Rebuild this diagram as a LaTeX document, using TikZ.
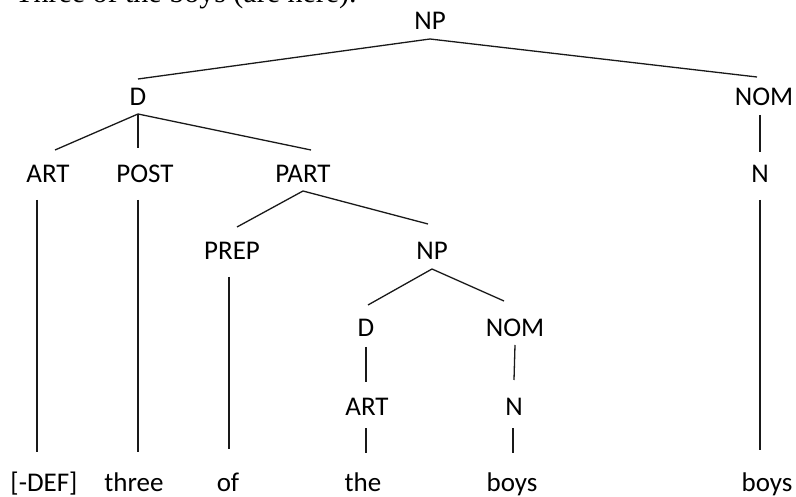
\documentclass[tikz,border=0pt]{standalone}
\usepackage{fontspec}
\setmainfont{Carlito}
\newfontfamily\serifsent{Liberation Serif}
\begin{document}
\begin{tikzpicture}[x=1pt,y=-1pt,
  lab/.style={inner sep=0pt, anchor=base, font=\fontsize{27}{31}\selectfont},
  br/.style={line width=1.3pt, black!90}]
\useasboundingbox (0,0) rectangle (796,497);
\node[anchor=base west, inner sep=0pt, font=\serifsent\fontsize{30}{34}\selectfont] (sent) at (15,3) {Three of the boys (are here).};
% labels
\node[lab] (np1) at (430,30) {NP};
\node[lab] (d1) at (138,106) {D};
\node[lab] (nom1) at (764,106) {NOM};
\node[lab] (art1) at (48,183) {ART};
\node[lab] (post1) at (145,183) {POST};
\node[lab] (part1) at (303,183) {PART};
\node[lab] (n1) at (760,183) {N};
\node[lab] (prep1) at (232,260) {PREP};
\node[lab] (np2) at (432,260) {NP};
\node[lab] (d2) at (366,337) {D};
\node[lab] (nom2) at (515,337) {NOM};
\node[lab] (art2) at (367,415) {ART};
\node[lab] (n2) at (514,415) {N};
\node[lab] (w1) at (44,491) {[-DEF]};
\node[lab] (w2) at (134,491) {three};
\node[lab] (w3) at (228,491) {of};
\node[lab] (w4) at (363,491) {the};
\node[lab] (w5) at (512,491) {boys};
\node[lab] (w6) at (767,491) {boys};
% branches
\draw[br] ([shift={(0,-27)}]d1.base) -- ([shift={(0,9)}]np1.base) -- ([shift={(-7,-29)}]nom1.base);
\draw[br] ([shift={(7,-33)}]art1.base) -- ([shift={(0,8)}]d1.base) -- ([shift={(8,-33)}]part1.base);
\draw[br] ([shift={(0,8)}]d1.base) -- ([shift={(-7,-35)}]post1.base);
\draw[br] ([shift={(5,-33)}]prep1.base) -- ([shift={(0,8)}]part1.base) -- ([shift={(-4,-36)}]np2.base);
\draw[br] ([shift={(2,-32)}]d2.base) -- ([shift={(0,9)}]np2.base) -- ([shift={(-11,-36)}]nom2.base);
\draw[br] ([shift={(0,10)}]d2.base) -- ([shift={(-1,-33)}]art2.base);
\draw[br] ([shift={(0,8)}]nom2.base) -- ([shift={(0,-35)}]n2.base);
\draw[br] ([shift={(-1,13)}]art2.base) -- ([shift={(3,-38)}]w4.base);
\draw[br] ([shift={(-1,13)}]n2.base) -- ([shift={(1,-38)}]w5.base);
\draw[br] ([shift={(-4,9)}]nom1.base) -- ([shift={(0,-31)}]n1.base);
\draw[br] ([shift={(0,17)}]n1.base) -- ([shift={(-7,-41)}]w6.base);
\draw[br] ([shift={(-11,17)}]art1.base) -- ([shift={(-7,-39)}]w1.base);
\draw[br] ([shift={(-7,17)}]post1.base) -- ([shift={(4,-39)}]w2.base);
\draw[br] ([shift={(-3,17)}]prep1.base) -- ([shift={(1,-42)}]w3.base);
\end{tikzpicture}
\end{document}
